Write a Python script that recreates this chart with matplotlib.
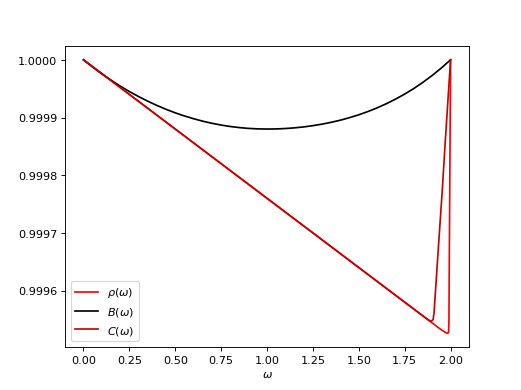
import matplotlib
matplotlib.use("Agg")
import matplotlib.pyplot as plt
from matplotlib.ticker import FormatStrFormatter

# omega grid and values (deficits below 1, in units of 1e-4)
omega_rho = [0.0, 0.25, 0.5, 0.75, 1.0, 1.25, 1.5, 1.75, 1.9, 1.95, 1.975,
             1.985, 1.989, 1.991, 1.995, 2.0]
rho_def = [0.0, 0.60, 1.20, 1.80, 2.40, 3.00, 3.60, 4.20, 4.56, 4.68, 4.73,
           4.74, 4.72, 4.55, 2.50, 0.0]

omega_b = [0.0, 0.05, 0.1, 0.15, 0.2, 0.25, 0.3, 0.35, 0.4, 0.45, 0.5,
           0.55, 0.6, 0.65, 0.7, 0.75, 0.8, 0.85, 0.9, 0.95, 1.0,
           1.05, 1.1, 1.15, 1.2, 1.25, 1.3, 1.35, 1.4, 1.45, 1.5,
           1.55, 1.6, 1.65, 1.7, 1.75, 1.8, 1.85, 1.9, 1.95, 2.0]
b_def = [0.0, 0.126, 0.243, 0.353, 0.455, 0.550, 0.637, 0.717, 0.791, 0.858, 0.919,
         0.973, 1.021, 1.064, 1.100, 1.131, 1.156, 1.175, 1.189, 1.197, 1.200,
         1.198, 1.191, 1.179, 1.163, 1.141, 1.115, 1.083, 1.046, 1.002, 0.953,
         0.896, 0.833, 0.761, 0.682, 0.594, 0.497, 0.389, 0.271, 0.142, 0.0]

omega_c = [0.0, 0.25, 0.5, 0.75, 1.0, 1.25, 1.5, 1.75, 1.88, 1.895, 1.905,
           1.91, 1.93, 1.954, 1.97, 1.99, 2.0]
c_def = [0.0, 0.60, 1.20, 1.80, 2.40, 3.00, 3.60, 4.20, 4.51, 4.53, 4.50,
         4.38, 3.42, 2.30, 1.47, 0.49, 0.0]

rho = [1 - d * 1e-4 for d in rho_def]
B = [1 - d * 1e-4 for d in b_def]
C = [1 - d * 1e-4 for d in c_def]

fig = plt.figure(figsize=(6.4, 4.8), dpi=81.41)
ax = fig.add_subplot(111)
ax.plot(omega_rho, rho, color='red', label=r'$\rho(\omega)$')
ax.plot(omega_b, B, color='black', label=r'$B(\omega)$')
ax.plot(omega_c, C, color='#c80000', label=r'$C(\omega)$')
ax.set_xlabel(r'$\omega$')
ax.yaxis.set_major_formatter(FormatStrFormatter('%.4f'))
ax.legend(loc='lower left')
fig.savefig('out.png', dpi=81.41)
